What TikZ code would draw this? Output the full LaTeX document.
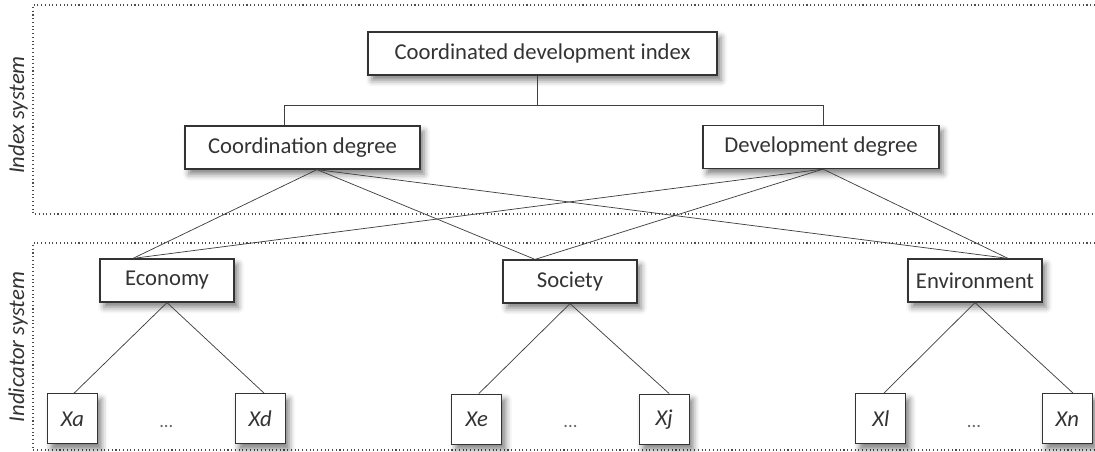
\documentclass[tikz,border=0pt]{standalone}
\usepackage{fontspec}
\setmainfont{Carlito}
\usetikzlibrary{positioning,calc,shadows.blur}

\newcommand{\boxfont}{\fontsize{17}{20}\selectfont}

\tikzstyle{box} = [draw=black!80, line width=0.9pt, fill=white, text=black!80,
    inner sep=0pt, minimum height=32.25pt,
    blur shadow={shadow xshift=3pt, shadow yshift=-4pt, shadow blur radius=4.5pt, shadow opacity=50}]
\tikzstyle{leaf} = [box, minimum width=37.5pt, minimum height=37.5pt, font=\boxfont\itshape]
\tikzstyle{link} = [draw=black!75, line width=0.55pt]
\tikzstyle{frame} = [draw=black!70, line width=0.8pt, dotted]
\tikzstyle{side} = [rotate=90, font=\boxfont\itshape, text=black!80]
\tikzstyle{gap} = [text=black!60, font=\fontsize{14}{16}\selectfont, yshift=-5.5pt]

\begin{document}
\begin{tikzpicture}[
            x = 0.75pt, % one unit = one pixel of the reference
            y = -0.75pt,
            font = \boxfont
        ]
        \useasboundingbox (0,0) rectangle (1095,452);

        % the two dotted frames, open at the right edge
        \draw[frame] (1095,5) -- (33,5) -- (33,214) -- (1095,214);
        \draw[frame] (1095,243) -- (33,243) -- (33,450) -- (1095,450);

        \node[side] (idx) at (18,115) {Index system};
        \node[side] (ind) at (18,347) {Indicator system};

        \node[box, minimum width=261.75pt] (cdi) at (542.5,53.5) {Coordinated development index};
        \node[box, minimum width=176.25pt] (cd) at (302.5,147.5) {Coordination degree};
        \node[box, minimum width=177pt] (dd) at (821,147) {Development degree};

        \node[box, minimum width=100.5pt] (eco) at (167,280.5) {Economy};
        \node[box, minimum width=100.5pt] (soc) at (570,281.5) {Society};
        \node[box, minimum width=100.5pt] (env) at (975,280.5) {Environment};

        \node[leaf] (xa) [below left=68pt and 1pt of eco] {Xa};
        \node[leaf] (xd) [below right=68pt and 0pt of eco] {Xd};
        \node[leaf] (xe) [below left=67.5pt and 0pt of soc] {Xe};
        \node[leaf] (xj) [below right=67.5pt and 0.75pt of soc] {Xj};
        \node[leaf] (xl) [below left=68pt and 0.75pt of env] {Xl};
        \node[leaf] (xn) [below right=68pt and -0.75pt of env] {Xn};

        \node[gap] (ga) at ($(xa)!0.5!(xd)$) {...};
        \node[gap] (gb) at ($(xe)!0.5!(xj)$) {...};
        \node[gap] (gc) at ($(xl)!0.5!(xn)$) {...};

        % index tree
        \draw[link] ($(cdi.south)+(-5,0)$) -- ++(0,30) coordinate (fork);
        \draw[link] ($(cd.north)+(-18.5,0)$) |- (fork) -| ($(dd.north)+(2,0)$);

        % both degrees reach all three subsystems
        \draw[link] ($(cd.south)+(14.5,0)$) -- ($(eco.north)+(-34,0)$);
        \draw[link] ($(cd.south)+(14.5,0)$) -- ($(soc.north)+(-35,0)$);
        \draw[link] ($(cd.south)+(14.5,0)$) -- ($(env.north)+(33,0)$);
        \draw[link] ($(dd.south)+(2,0)$) -- ($(eco.north)+(-34,0)$);
        \draw[link] ($(dd.south)+(2,0)$) -- ($(soc.north)+(-35,0)$);
        \draw[link] ($(dd.south)+(2,0)$) -- ($(env.north)+(33,0)$);

        \draw[link] (eco.south) -- ($(xa.north)+(1.5,0)$);
        \draw[link] (eco.south) -- ($(xd.north)+(4,0)$);
        \draw[link] (soc.south) -- ($(xe.north)+(2,0)$);
        \draw[link] (soc.south) -- ($(xj.north)+(5,0)$);
        \draw[link] (env.south) -- ($(xl.north)+(3,0)$);
        \draw[link] (env.south) -- ($(xn.north)+(6,0)$);

    \end{tikzpicture}
\end{document}
